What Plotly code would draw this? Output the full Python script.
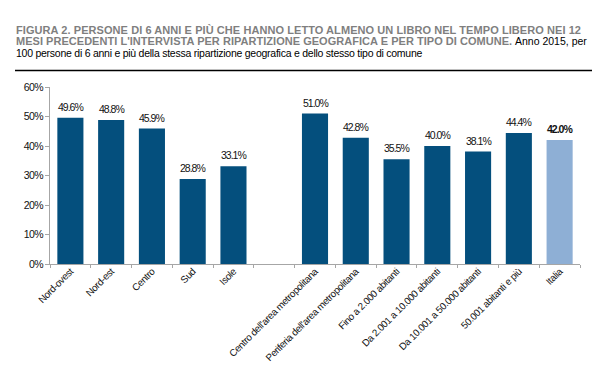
import plotly.graph_objects as go

categories = ["Nord-ovest", "Nord-est", "Centro", "Sud", "Isole", " ",
              "Centro dell'area metropolitana", "Periferia dell'area metropolitana",
              "Fino a 2.000 abitanti", "Da 2.001 a 10.000 abitanti",
              "Da 10.001 a 50.000 abitanti", "50.001 abitanti e più", "Italia"]
values = [49.6, 48.8, 45.9, 28.8, 33.1, None, 51.0, 42.8, 35.5, 40.0, 38.1, 44.4, 42.0]
y_ticks = [0, 10, 20, 30, 40, 50, 60]
y_ticklabels = ["0%", "10%", "20%", "30%", "40%", "50%", "60%"]

title_bold_1 = "FIGURA 2. PERSONE DI 6 ANNI E PIÙ CHE HANNO LETTO ALMENO UN LIBRO NEL TEMPO LIBERO NEI 12"
title_bold_2 = "MESI PRECEDENTI L'INTERVISTA PER RIPARTIZIONE GEOGRAFICA E PER TIPO DI COMUNE."
title_reg_2 = "Anno 2015, per"
title_reg_3 = "100 persone di 6 anni e più della stessa ripartizione geografica e dello stesso tipo di comune"

DARK = "#044f7d"
LIGHT = "#8eafd5"
GREY = "#7f7f7f"
FONT = "Liberation Sans, Arial, sans-serif"


def squeeze(s, ls):
    return "<span style='letter-spacing:%spx'>%s</span>" % (ls, s)


colors = [LIGHT if c == "Italia" else DARK for c in categories]

fig = go.Figure()
fig.add_trace(go.Bar(
    x=categories, y=values, marker=dict(color=colors, line=dict(width=0)),
    hoverinfo="skip",
))

# value labels above the bars
for c, v in zip(categories, values):
    if v is None:
        continue
    label = "%.1f%%" % v
    if c == "Italia":
        label = "<b>%s</b>" % label
    fig.add_annotation(
        x=c, y=v, xref="x", yref="y", text=squeeze(label, -1.0),
        showarrow=False, yanchor="bottom", yshift=3,
        font=dict(family=FONT, size=10.5, color="#111111"),
    )

W, H = 600, 368
L, R, T, B = 42, 28, 79, 112
pw, ph = W - L - R, H - T - B


def px_x(x):
    return (x - L) / pw


def px_y(y):
    return (H - B - y) / ph


fig.update_layout(
    width=W, height=H,
    margin=dict(l=L, r=R, t=T, b=B, autoexpand=False),
    paper_bgcolor="white", plot_bgcolor="white",
    bargap=0.36, showlegend=False,
    font=dict(family=FONT, size=11, color="#111111"),
    xaxis=dict(
        type="category", categoryorder="array", categoryarray=categories,
        tickmode="array", tickvals=categories,
        ticktext=[squeeze(c, -0.35) for c in categories],
        tickangle=-45, tickson="boundaries", ticks="outside", ticklen=3,
        ticklabelstandoff=-3,
        tickcolor="#a6a6a6", showline=True, linecolor="#a6a6a6", linewidth=1,
        showgrid=False, automargin=False,
        tickfont=dict(family=FONT, size=9.8, color="#111111"),
    ),
    yaxis=dict(
        range=[0, 60], tickvals=y_ticks,
        ticktext=[squeeze(t, -0.6) for t in y_ticklabels],
        ticks="outside", ticklen=4, tickcolor="#a6a6a6",
        showline=True, linecolor="#a6a6a6", linewidth=1,
        showgrid=False, zeroline=False, automargin=False,
        tickfont=dict(family=FONT, size=10.5, color="#111111"),
    ),
)

# title block
fig.add_annotation(text="<b>%s</b>" % squeeze(title_bold_1, 0.07), xref="paper", yref="paper",
                   x=px_x(6), y=px_y(21.5), xanchor="left", yanchor="middle", showarrow=False,
                   font=dict(family=FONT, size=11, color=GREY))
fig.add_annotation(text="<b>%s</b>" % squeeze(title_bold_2, 0.03), xref="paper", yref="paper",
                   x=px_x(6), y=px_y(33), xanchor="left", yanchor="middle", showarrow=False,
                   font=dict(family=FONT, size=11, color=GREY))
fig.add_annotation(text=title_reg_2, xref="paper", yref="paper",
                   x=px_x(581), y=px_y(33), xanchor="right", yanchor="middle", showarrow=False,
                   font=dict(family=FONT, size=10.5, color="#000000"))
fig.add_annotation(text=squeeze(title_reg_3, -0.25), xref="paper", yref="paper",
                   x=px_x(6), y=px_y(44.5), xanchor="left", yanchor="middle", showarrow=False,
                   font=dict(family=FONT, size=10.5, color="#000000"))

for yline in (62.5, 366.5):
    fig.add_shape(type="line", xref="paper", yref="paper",
                  x0=px_x(7), x1=px_x(587), y0=px_y(yline), y1=px_y(yline),
                  line=dict(color="#000000", width=1.5))

fig.write_html("out.html")
